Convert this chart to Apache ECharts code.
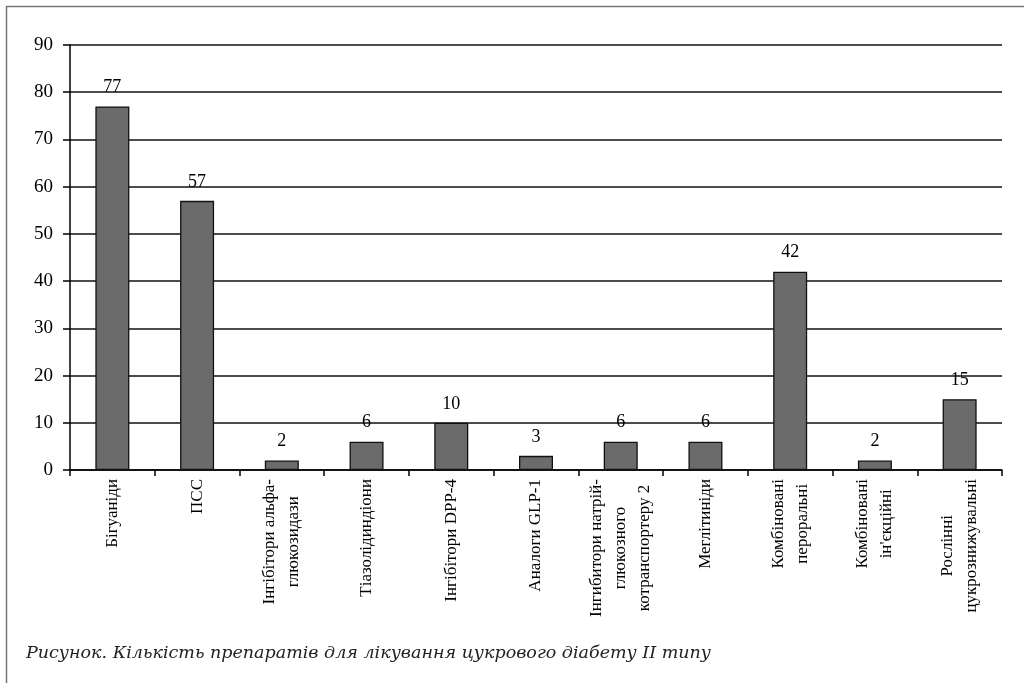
<!DOCTYPE html>
<html>
<head>
<meta charset="utf-8">
<script src="https://cdn.jsdelivr.net/npm/echarts@6/dist/echarts.min.js"></script>
<style>
html,body{margin:0;padding:0;background:#fff;}
#chart{width:1024px;height:683px;}
</style>
</head>
<body>
<div id="chart"></div>
<script>
const categories = [
  'Бігуаніди',
  'ПСС',
  'Інгібітори альфа-\nглюкозидази',
  'Тіазолідиндіони',
  'Інгібітори DPP-4',
  'Аналоги GLP-1',
  'Інгибитори натрій-\nглюкозного\nкотранспортеру 2',
  'Меглітиніди',
  'Комбіновані\nпероральні',
  'Комбіновані\nін\'єкційні',
  'Рослінні\nцукрознижувальні'
];
const values = [77, 57, 2, 6, 10, 3, 6, 6, 42, 2, 15];
const yTicks = [0, 10, 20, 30, 40, 50, 60, 70, 80, 90];
const caption = 'Рисунок. Кількість препаратів для лікування цукрового діабету II типу';

const serif = '"Liberation Serif", "Times New Roman", serif';
const chart = echarts.init(document.getElementById('chart'), null, {renderer: 'canvas'});
chart.setOption({
  animation: false,
  backgroundColor: '#fff',
  title: {
    text: caption,
    left: 21,
    top: 639,
    textStyle: {fontFamily: '"DejaVu Serif", serif', fontStyle: 'italic', fontWeight: 'normal', fontSize: 17.5, color: '#222'}
  },
  graphic: [{
    type: 'rect',
    shape: {x: 6.5, y: 6.5, width: 1030, height: 700},
    style: {fill: 'none', stroke: '#777', lineWidth: 1.5},
    silent: true
  }],
  grid: {left: 70, right: 22, top: 45, bottom: 213, containLabel: false},
  xAxis: {
    type: 'category',
    data: categories,
    axisLine: {lineStyle: {color: '#000', width: 1.5}},
    axisTick: {show: true, alignWithLabel: false, length: 6, lineStyle: {color: '#000', width: 1.5}},
    axisLabel: {
      interval: 0,
      rotate: 90,
      margin: 9,
      formatter: function (v) {
        return v.split('\n').map(function (s) { return '{c|' + s + '}'; }).join('\n');
      },
      rich: {
        c: {align: 'center', fontFamily: serif, fontSize: 17, lineHeight: 24, color: '#000'}
      },
      fontFamily: serif, fontSize: 17, lineHeight: 24, color: '#000'
    }
  },
  yAxis: {
    type: 'value',
    min: 0,
    max: 90,
    interval: 10,
    axisLine: {show: true, lineStyle: {color: '#000', width: 1.5}},
    axisTick: {show: true, inside: false, length: 7, lineStyle: {color: '#000', width: 1.5}},
    splitLine: {show: true, lineStyle: {color: '#111', width: 1.6}},
    axisLabel: {
      margin: 17,
      fontFamily: serif, fontSize: 19, color: '#000',
      formatter: function (v) { return yTicks.indexOf(v) >= 0 ? String(v) : ''; }
    }
  },
  series: [{
    type: 'bar',
    data: values,
    barWidth: 34,
    itemStyle: {color: '#6b6b6b', borderColor: '#111', borderWidth: 1.3},
    label: {
      show: true,
      position: 'top',
      distance: 10,
      fontFamily: serif, fontSize: 18, color: '#000'
    }
  }]
});
</script>
</body>
</html>
